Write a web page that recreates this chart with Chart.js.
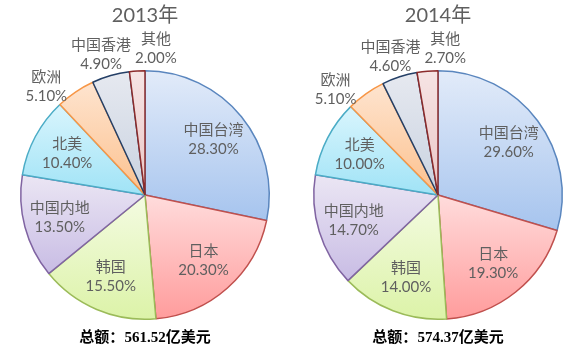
<!DOCTYPE html>
<html>
<head>
<meta charset="utf-8">
<title>出口市场份额</title>
<script src="https://cdn.jsdelivr.net/npm/chart.js@4/dist/chart.umd.min.js"></script>
<style>
  body { margin: 0; background: #fff; }
  .wrap { position: relative; width: 569px; height: 349px; }
  .pie { position: absolute; top: 0; height: 349px; }
</style>
</head>
<body>
<div class="wrap">
  <div class="pie" style="left:0;width:285px"><canvas id="pie2013" width="285" height="349"></canvas></div>
  <div class="pie" style="left:285px;width:284px"><canvas id="pie2014" width="284" height="349"></canvas></div>
</div>
<script>
// 各地区占比（%）
const regions = ['中国台湾', '日本', '韩国', '中国内地', '北美', '欧洲', '中国香港', '其他']
const share2013 = [28.3, 20.3, 15.5, 13.5, 10.4, 5.1, 4.9, 2.0]
const share2014 = [29.6, 19.3, 14.0, 14.7, 10.0, 5.1, 4.6, 2.7]
const years = ['2013年', '2014年']
const totals = ['561.52', '574.37']

// 渐变的浅色端、深色端，以及描边颜色
const lightColors = ['#e2ebf9', '#ffdcdc', '#f4fbe2', '#ebe6f4', '#d9f5fd', '#fee4cf', '#e6e9f0', '#f6e4e4']
const deepColors = ['#a6c4ee', '#ff9c9c', '#dcf3a8', '#c8bce4', '#a0e3f6', '#fcc18e', '#c9d2e0', '#ebc6c6']
const lineColors = ['#5a86be', '#c0504d', '#9bbb59', '#8064a2', '#4bacc6', '#f79646', '#243f66', '#8c2b2b']

const labelFont = '15px Lato, "Noto Sans CJK SC", sans-serif'

// 每个扇区按自身高度填充竖向渐变
const sliceGradient = {
    id: 'sliceGradient',
    beforeDatasetsDraw(chart) {
        const ctx = chart.ctx
        chart.getDatasetMeta(0).data.forEach((arc, i) => {
            const { x, y, startAngle, endAngle, outerRadius } = arc
            const angles = [startAngle, endAngle]
            for (let k = -1; k <= 3; k++) {
                const a = k * Math.PI / 2
                if (a > startAngle && a < endAngle) angles.push(a)
            }
            let top = y, bottom = y
            angles.forEach(a => {
                const py = y + Math.sin(a) * outerRadius
                top = Math.min(top, py)
                bottom = Math.max(bottom, py)
            })
            const g = ctx.createLinearGradient(0, top, 0, bottom)
            g.addColorStop(0, lightColors[i])
            g.addColorStop(1, deepColors[i])
            arc.options.backgroundColor = g
        })
    }
}

// 名称 + 百分比标签，小扇区放在饼外并左右错开
const sliceLabels = {
    id: 'sliceLabels',
    afterDatasetsDraw(chart) {
        const ctx = chart.ctx
        const values = chart.data.datasets[0].data
        const names = chart.data.labels
        ctx.save()
        ctx.font = labelFont
        ctx.fillStyle = '#5f5f5f'
        ctx.textAlign = 'center'
        ctx.textBaseline = 'middle'

        const items = []
        chart.getDatasetMeta(0).data.forEach((arc, i) => {
            const mid = (arc.startAngle + arc.endAngle) / 2
            const text = [names[i], values[i].toFixed(2) + '%']
            const w = Math.max(ctx.measureText(text[0]).width, ctx.measureText(text[1]).width)
            const outside = values[i] < 6
            const d = arc.outerRadius * (outside ? 1.18 : 0.71)
            items.push({
                text, w, outside, d, mid,
                cx: arc.x, cy: arc.y,
                x: arc.x + Math.cos(mid) * d,
                y: arc.y + Math.sin(mid) * d
            })
        })

        // 外部标签横向避让
        const outer = items.filter(it => it.outside).sort((a, b) => a.x - b.x)
        for (let n = 0; n < 60; n++) {
            for (let k = 1; k < outer.length; k++) {
                const a = outer[k - 1], b = outer[k]
                const need = (a.w + b.w) / 2 + 4
                const gap = b.x - a.x
                if (gap < need) {
                    a.x -= (need - gap) / 2
                    b.x += (need - gap) / 2
                }
            }
        }
        outer.forEach(it => {
            const dx = Math.min(Math.abs(it.x - it.cx), it.d)
            const sign = Math.sin(it.mid) < 0 ? -1 : 1
            it.y = it.cy + sign * Math.sqrt(it.d * it.d - dx * dx)
        })

        items.forEach(it => {
            ctx.fillText(it.text[0], it.x, it.y - 9.5)
            ctx.fillText(it.text[1], it.x, it.y + 9.5)
        })
        ctx.restore()
    }
}

function makePie(id, data, year, total, padLeft, padRight) {
    return new Chart(document.getElementById(id), {
        type: 'pie',
        data: {
            labels: regions,
            datasets: [{
                data: data,
                backgroundColor: lightColors,
                borderColor: lineColors,
                borderWidth: 1.5
            }]
        },
        options: {
            responsive: false,
            animation: false,
            devicePixelRatio: 1,
            layout: { padding: { left: padLeft, right: padRight, top: 0, bottom: 0 } },
            plugins: {
                legend: { display: false },
                tooltip: { enabled: false },
                title: {
                    display: true,
                    text: year,
                    fullSize: false,
                    color: '#5f5f5f',
                    font: { family: 'Lato, "Noto Sans CJK SC", sans-serif', size: 20, weight: 'normal' },
                    padding: { top: 4, bottom: 42 }
                },
                subtitle: {
                    display: true,
                    position: 'bottom',
                    text: '总额：' + total + '亿美元',
                    fullSize: false,
                    color: '#000',
                    font: { family: '"Liberation Serif", "Noto Sans CJK SC", serif', size: 15, weight: 'bold' },
                    padding: { top: 9, bottom: 2 }
                }
            }
        },
        plugins: [sliceGradient, sliceLabels]
    })
}

makePie('pie2013', share2013, years[0], totals[0], 20, 15)
makePie('pie2014', share2014, years[1], totals[1], 28, 6)
</script>
</body>
</html>
